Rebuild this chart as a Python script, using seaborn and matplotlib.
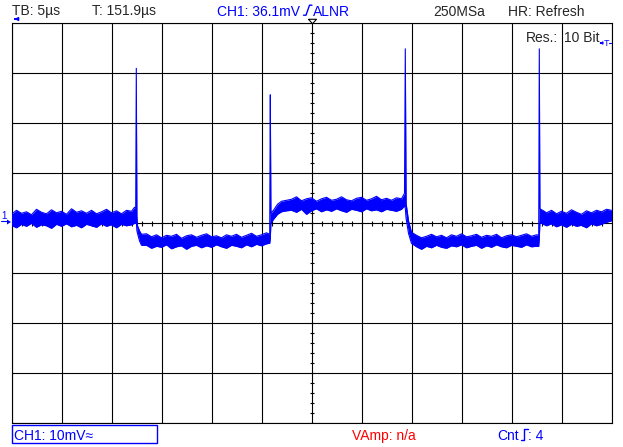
import numpy as np
import pandas as pd
import matplotlib.pyplot as plt
import seaborn as sns
from matplotlib.lines import Line2D
from matplotlib.patches import Rectangle, Polygon

# trace envelope: time in us, upper / lower edge of the noisy band in mV
# segment 1: idle level, left
t_a = [0, 0.5, 1, 1.5, 2, 2.5, 3, 3.5, 4, 4.5, 5, 5.5, 6, 6.5, 7, 7.5, 8, 8.5, 9, 9.5, 10, 10.5, 11, 11.5, 12]
up_a = [1.8, 2.6, 2.0, 2.3, 1.7, 2.8, 2.2, 1.9, 2.7, 2.1, 2.4, 1.8, 2.9, 2.2, 2.5, 2.0, 2.6, 1.9, 2.3, 2.8,
        2.1, 2.5, 1.9, 2.6, 2.4]
lo_a = [-0.4, -0.9, -0.2, -0.6, 0.0, -0.8, -0.3, -0.5, -1.0, -0.2, -0.6, -0.1, -0.7, -0.4, -0.9, -0.2, -0.5,
        -0.8, -0.1, -0.6, -0.3, -0.9, -0.2, -0.5, -0.3]
# first spike + falling edge
t_e1 = [12.3, 12.42, 12.48, 12.54, 12.6, 12.8, 13.0]
up_e1 = [3.2, 3.0, 31.0, 1.5, -0.5, -1.5, -2.2]
lo_e1 = [0.0, 0.0, 0.5, -1.5, -2.0, -3.5, -4.4]
# segment 2: low level
t_b = [13.5, 14, 14.5, 15, 15.5, 16, 16.5, 17, 17.5, 18, 18.5, 19, 19.5, 20, 20.5, 21, 21.5, 22, 22.5, 23,
       23.5, 24, 24.5, 25, 25.5]
up_b = [-2.1, -2.7, -2.3, -2.9, -2.4, -2.6, -2.2, -3.0, -2.5, -2.3, -2.8, -2.4, -2.1, -2.7, -2.5, -2.9,
        -2.3, -2.6, -2.2, -2.8, -2.4, -2.0, -2.6, -2.3, -1.9]
lo_b = [-4.4, -5.0, -4.6, -4.8, -4.3, -5.1, -4.7, -4.5, -5.2, -4.6, -4.4, -4.9, -4.5, -4.8, -4.3, -4.7,
        -5.0, -4.4, -4.6, -4.9, -4.3, -4.7, -4.2, -4.5, -4.1]
# second spike + rising edge
t_e2 = [25.82, 25.88, 25.94, 26.2, 26.6, 27.0, 27.5]
up_e2 = [-2.2, 25.7, 2.0, 2.6, 3.8, 4.4, 4.6]
lo_e2 = [-4.0, -3.0, 0.0, 0.8, 1.8, 2.3, 2.5]
# segment 3: high level
t_c = [28, 28.5, 29, 29.5, 30, 30.5, 31, 31.5, 32, 32.5, 33, 33.5, 34, 34.5, 35, 35.5, 36, 36.5, 37, 37.5,
       38, 38.5, 39]
up_c = [4.8, 5.3, 4.5, 4.9, 5.1, 4.4, 4.9, 5.2, 4.6, 4.8, 5.3, 4.7, 4.5, 5.0, 5.2, 4.6, 4.9, 5.4, 4.7, 5.0,
        4.6, 5.1, 4.9]
lo_c = [2.6, 2.2, 2.8, 1.8, 2.5, 2.9, 2.3, 2.7, 2.4, 2.9, 2.5, 2.2, 2.8, 2.6, 2.3, 2.9, 2.5, 2.7, 2.3, 2.8,
        2.6, 2.4, 2.8]
# third spike + falling edge
t_e3 = [39.3, 39.38, 39.46, 39.7, 40.0]
up_e3 = [6.0, 34.9, 4.0, 0.5, -1.8]
lo_e3 = [3.5, 3.0, 1.0, -2.0, -4.0]
# segment 4: low level
t_d = [40.5, 41, 41.5, 42, 42.5, 43, 43.5, 44, 44.5, 45, 45.5, 46, 46.5, 47, 47.5, 48, 48.5, 49, 49.5, 50,
       50.5, 51, 51.5, 52, 52.5]
up_d = [-2.4, -2.9, -2.6, -2.2, -2.7, -2.4, -2.9, -2.3, -2.6, -2.1, -2.7, -2.5, -2.2, -2.8, -2.4, -2.6,
        -2.2, -2.9, -2.5, -2.3, -2.7, -2.4, -2.1, -2.6, -2.3]
lo_d = [-4.7, -5.2, -4.6, -4.9, -4.4, -4.8, -5.0, -4.5, -4.7, -4.3, -4.9, -4.6, -4.4, -5.0, -4.5, -4.8,
        -4.3, -4.7, -4.9, -4.4, -4.6, -4.8, -4.3, -4.7, -4.6]
# fourth spike + rising edge
t_e4 = [52.72, 52.78, 52.84, 53.2]
up_e4 = [-2.4, 34.9, 2.9, 2.5]
lo_e4 = [-4.6, -3.0, 0.2, -0.2]
# segment 5: idle level, right
t_f = [53.5, 54, 54.5, 55, 55.5, 56, 56.5, 57, 57.5, 58, 58.5, 59, 59.5, 60]
up_f = [2.1, 2.6, 1.9, 2.4, 2.0, 2.7, 2.2, 1.8, 2.5, 2.1, 2.6, 2.3, 2.8, 2.6]
lo_f = [-0.5, -0.1, -0.7, -0.3, -0.8, -0.2, -0.6, -0.4, -0.9, -0.1, -0.5, -0.2, 0.2, 0.5]

trig_level_mV = 36.1
top_texts = ["TB: 5µs", "T: 151.9µs", "CH1: 36.1mV", "ALNR", "250MSa", "HR: Refresh"]
bottom_texts = ["CH1: 10mV≈", "VAmp: n/a", "Cnt", ": 4"]

W, H = 623, 447
BLUE = "#0000ff"


def fx(x):
    return x / W


def fy(y):
    return 1 - y / H


sns.set_style("white")
plt.rcParams['font.family'] = ['Liberation Sans', 'DejaVu Sans']

fig = plt.figure(figsize=(W / 100, H / 100), dpi=100)
ax = fig.add_axes([fx(11.5), fy(423.3), 600 / W, 400 / H])

df = pd.DataFrame({
    "t": t_a + t_e1 + t_b + t_e2 + t_c + t_e3 + t_d + t_e4 + t_f,
    "upper": up_a + up_e1 + up_b + up_e2 + up_c + up_e3 + up_d + up_e4 + up_f,
    "lower": lo_a + lo_e1 + lo_b + lo_e2 + lo_c + lo_e3 + lo_d + lo_e4 + lo_f,
})

# grid
ax.set_xlim(0, 60)
ax.set_ylim(-40, 40)
ax.set_xticks(np.arange(0, 61, 5))
ax.set_yticks(np.arange(-40, 41, 10))
ax.tick_params(length=0, labelbottom=False, labelleft=False)
ax.grid(True, color="black", lw=0.8)
for s in ax.spines.values():
    s.set_color("black")
    s.set_linewidth(0.8)
# small ticks on the centre cross
ax.vlines(np.arange(0, 60, 1), -0.45, 0.45, color="black", lw=0.8)
ax.hlines(np.arange(-40, 40, 2), 29.8, 30.2, color="black", lw=0.8)

# trace
ax.fill_between(df["t"], df["lower"], df["upper"], color=BLUE, lw=0, zorder=3)
sns.lineplot(data=df, x="t", y="upper", estimator=None, sort=False, color=BLUE, lw=0.8, ax=ax, zorder=4)
sns.lineplot(data=df, x="t", y="lower", estimator=None, sort=False, color=BLUE, lw=0.8, ax=ax, zorder=4)
ax.set_xlabel("")
ax.set_ylabel("")

# trigger position marker on top
ax.plot([30], [40.56], marker=[(-4, 2.2), (4, 2.2), (0, -2.2), (-4, 2.2)], ms=5.8,
        mfc="white", mec="black", mew=0.8, clip_on=False, zorder=5)

# header / footer text
fs = 10
base_top = 15.5
fig.text(fx(12), fy(base_top), top_texts[0], fontsize=fs, va="baseline")
fig.text(fx(92), fy(base_top), top_texts[1], fontsize=fs, va="baseline")
fig.text(fx(217), fy(base_top), top_texts[2], fontsize=fs, va="baseline", color=BLUE)
fig.text(fx(312.5), fy(base_top), top_texts[3], fontsize=fs, va="baseline", color=BLUE)
fig.text(fx(433), fy(base_top), top_texts[4], fontsize=fs, va="baseline")
fig.text(fx(508), fy(base_top), top_texts[5], fontsize=fs, va="baseline")
fig.add_artist(Line2D([fx(303.5), fx(306), fx(309.5), fx(312)],
                      [fy(15.2), fy(15.2), fy(5.2), fy(5.2)], color=BLUE, lw=1))

fig.text(fx(526), fy(41.5), "Res.:", fontsize=fs, va="baseline")
fig.text(fx(564.5), fy(41.5), "10 Bit", fontsize=fs, va="baseline")

base_bot = 440
fig.add_artist(Rectangle((fx(12), fy(443)), (156.5 - 12) / W, 18 / H,
                         transform=fig.transFigure, fill=False, ec=BLUE, lw=1))
fig.text(fx(14), fy(base_bot), bottom_texts[0], fontsize=fs, va="baseline", color=BLUE)
fig.text(fx(352), fy(base_bot), bottom_texts[1], fontsize=fs, va="baseline", color="red")
fig.text(fx(497), fy(base_bot), bottom_texts[2], fontsize=fs, va="baseline", color=BLUE)
fig.text(fx(527.5), fy(base_bot), bottom_texts[3], fontsize=fs, va="baseline", color=BLUE)
fig.add_artist(Line2D([fx(520.5), fx(524), fx(524), fx(527.5)],
                      [fy(439.5), fy(439.5), fy(428.5), fy(428.5)], color=BLUE, lw=1))

# time reference arrow (top left)
ax.annotate("", xy=(fx(11.5), fy(19)), xytext=(fx(18), fy(19)), xycoords="figure fraction",
            arrowprops=dict(arrowstyle="-|>", color=BLUE, lw=1, mutation_scale=5))

# trigger level marker (right)
ax.annotate("", xy=(fx(599.5), fy(43)), xytext=(fx(604), fy(43)), xycoords="figure fraction",
            arrowprops=dict(arrowstyle="-|>", color=BLUE, lw=0.8, mutation_scale=4))
fig.text(fx(603.5), fy(46.5), "T", fontsize=6.5, color=BLUE, va="baseline")
fig.add_artist(Line2D([fx(608.5), fx(611)], [fy(43), fy(43)], color=BLUE, lw=0.8))

# channel 1 ground marker (left)
fig.text(fx(1.5), fy(218.5), "1", fontsize=7, color=BLUE, va="baseline")
fig.add_artist(Line2D([fx(1), fx(6.5)], [fy(220.5), fy(220.5)], color=BLUE, lw=0.8))
fig.add_artist(Polygon([(fx(7), fy(219.5)), (fx(11), fy(222)), (fx(7), fy(224.5))],
                       closed=True, transform=fig.transFigure, color=BLUE, lw=0))

fig.savefig("out.png", dpi=100, facecolor="white")
